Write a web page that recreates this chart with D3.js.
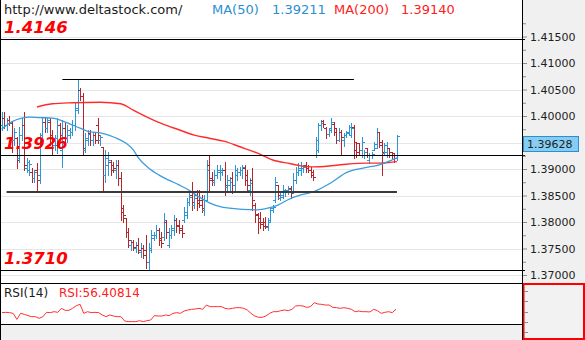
<!DOCTYPE html>
<html>
<head>
<meta charset="utf-8">
<script src="https://cdn.jsdelivr.net/npm/d3@7"></script>
<style>
html, body { margin: 0; padding: 0; background: #fff; }
svg { display: block; font-family: "DejaVu Sans", sans-serif; }
</style>
</head>
<body>
<svg id="chart" width="585" height="340"></svg>
<script>
// OHLC bars: [open, high, low, close]
const bars = [
  [1.3983,1.4008,1.3974,1.3996],[1.3996,1.4008,1.3977,1.3983],[1.3983,1.3996,1.3974,1.3992],
  [1.3992,1.4000,1.3983,1.3987],[1.3987,1.3989,1.3932,1.3955],[1.3955,1.3977,1.3945,1.3970],
  [1.3959,1.3960,1.3902,1.3917],[1.3921,1.3979,1.3913,1.3964],[1.3964,1.3996,1.3955,1.3983],
  [1.3983,1.4008,1.3898,1.3908],[1.3902,1.3921,1.3894,1.3913],[1.3898,1.3917,1.3889,1.3909],
  [1.3894,1.3902,1.3875,1.3883],[1.3883,1.3898,1.3875,1.3894],[1.3898,1.3911,1.3857,1.3879],
  [1.3889,1.3968,1.3874,1.3955],[1.3964,1.3996,1.3955,1.3989],[1.3989,1.3998,1.3970,1.3977],
  [1.3977,1.3996,1.3970,1.3992],[1.3989,1.3996,1.3945,1.3959],[1.3964,1.3974,1.3926,1.3945],
  [1.3945,1.3964,1.3936,1.3959],[1.3945,1.3996,1.3930,1.3983],[1.3983,1.3987,1.3955,1.3964],
  [1.3936,1.3992,1.3904,1.3977],[1.3977,1.3987,1.3949,1.3959],[1.3959,1.3983,1.3951,1.3974],
  [1.3964,1.3977,1.3959,1.3970],[1.3970,1.3992,1.3964,1.3983],[1.3983,1.4025,1.3974,1.4015],
  [1.4011,1.4070,1.4006,1.4049],[1.4049,1.4053,1.4030,1.4038],[1.4038,1.4043,1.3926,1.3940],
  [1.3936,1.3968,1.3932,1.3959],[1.3955,1.3974,1.3945,1.3966],[1.3968,1.3974,1.3945,1.3955],
  [1.3955,1.3970,1.3945,1.3964],[1.3964,1.3970,1.3949,1.3955],[1.3983,1.3996,1.3949,1.3964],
  [1.3955,1.3964,1.3945,1.3960],[1.3942,1.3942,1.3857,1.3889],[1.3889,1.3936,1.3875,1.3921],
  [1.3908,1.3932,1.3889,1.3917],[1.3913,1.3917,1.3889,1.3898],[1.3908,1.3913,1.3894,1.3902],
  [1.3898,1.3917,1.3883,1.3908],[1.3908,1.3917,1.3870,1.3883],[1.3883,1.3894,1.3804,1.3819],
  [1.3826,1.3832,1.3800,1.3813],[1.3808,1.3808,1.3772,1.3781],[1.3781,1.3789,1.3753,1.3766],
  [1.3757,1.3766,1.3747,1.3762],[1.3762,1.3766,1.3747,1.3753],[1.3751,1.3762,1.3743,1.3757],
  [1.3757,1.3770,1.3742,1.3747],[1.3743,1.3760,1.3734,1.3751],[1.3751,1.3757,1.3732,1.3738],
  [1.3747,1.3775,1.3713,1.3725],[1.3725,1.3760,1.3709,1.3747],[1.3751,1.3785,1.3743,1.3775],
  [1.3770,1.3781,1.3766,1.3775],[1.3775,1.3794,1.3770,1.3785],[1.3785,1.3789,1.3757,1.3766],
  [1.3770,1.3781,1.3753,1.3760],[1.3772,1.3817,1.3766,1.3804],[1.3800,1.3804,1.3770,1.3781],
  [1.3757,1.3789,1.3753,1.3775],[1.3775,1.3794,1.3770,1.3789],[1.3785,1.3813,1.3775,1.3804],
  [1.3804,1.3808,1.3781,1.3792],[1.3794,1.3804,1.3779,1.3785],[1.3789,1.3794,1.3772,1.3779],
  [1.3804,1.3828,1.3800,1.3819],[1.3813,1.3845,1.3808,1.3838],[1.3838,1.3855,1.3832,1.3847],
  [1.3851,1.3875,1.3823,1.3838],[1.3832,1.3855,1.3826,1.3845],[1.3851,1.3860,1.3823,1.3836],
  [1.3842,1.3860,1.3828,1.3832],[1.3842,1.3851,1.3819,1.3826],[1.3823,1.3851,1.3813,1.3842],
  [1.3842,1.3917,1.3842,1.3898],[1.3908,1.3925,1.3860,1.3879],[1.3883,1.3894,1.3870,1.3879],
  [1.3875,1.3898,1.3870,1.3889],[1.3889,1.3908,1.3883,1.3898],[1.3894,1.3908,1.3879,1.3898],
  [1.3894,1.3902,1.3889,1.3898],[1.3898,1.3913,1.3851,1.3870],[1.3866,1.3889,1.3860,1.3879],
  [1.3870,1.3885,1.3860,1.3875],[1.3883,1.3894,1.3855,1.3870],[1.3870,1.3908,1.3860,1.3898],
  [1.3889,1.3902,1.3879,1.3894],[1.3894,1.3904,1.3889,1.3898],[1.3898,1.3908,1.3883,1.3904],
  [1.3902,1.3908,1.3870,1.3879],[1.3889,1.3898,1.3857,1.3870],[1.3860,1.3883,1.3851,1.3874],
  [1.3879,1.3902,1.3823,1.3842],[1.3832,1.3836,1.3800,1.3813],[1.3815,1.3817,1.3779,1.3800],
  [1.3808,1.3819,1.3789,1.3796],[1.3800,1.3808,1.3785,1.3792],[1.3800,1.3809,1.3789,1.3792],
  [1.3791,1.3808,1.3785,1.3800],[1.3804,1.3828,1.3800,1.3823],[1.3826,1.3832,1.3819,1.3828],
  [1.3842,1.3885,1.3838,1.3875],[1.3870,1.3870,1.3843,1.3851],[1.3845,1.3857,1.3842,1.3851],
  [1.3847,1.3870,1.3845,1.3860],[1.3857,1.3862,1.3849,1.3860],[1.3857,1.3868,1.3853,1.3862],
  [1.3864,1.3868,1.3845,1.3855],[1.3857,1.3892,1.3855,1.3879],[1.3879,1.3904,1.3874,1.3894],
  [1.3894,1.3911,1.3889,1.3902],[1.3898,1.3913,1.3889,1.3906],[1.3902,1.3908,1.3894,1.3904],
  [1.3908,1.3913,1.3894,1.3902],[1.3902,1.3908,1.3894,1.3898],[1.3898,1.3904,1.3885,1.3889],
  [1.3894,1.3898,1.3879,1.3885],[1.3926,1.3960,1.3923,1.3955],[1.3936,1.3987,1.3932,1.3983],
  [1.3983,1.3992,1.3974,1.3987],[1.3991,1.3992,1.3979,1.3985],[1.3977,1.3979,1.3959,1.3966],
  [1.3966,1.3977,1.3962,1.3974],[1.3977,1.3996,1.3970,1.3989],[1.3985,1.3989,1.3964,1.3970],
  [1.3977,1.3977,1.3949,1.3955],[1.3955,1.3977,1.3953,1.3970],[1.3970,1.3974,1.3926,1.3960],
  [1.3955,1.3968,1.3943,1.3964],[1.3964,1.3972,1.3960,1.3968],[1.3970,1.3983,1.3966,1.3979],
  [1.3964,1.3987,1.3960,1.3977],[1.3979,1.3983,1.3921,1.3936],[1.3951,1.3951,1.3923,1.3932],
  [1.3949,1.3949,1.3926,1.3936],[1.3936,1.3960,1.3923,1.3951],[1.3926,1.3936,1.3921,1.3932],
  [1.3940,1.3940,1.3923,1.3926],[1.3917,1.3930,1.3911,1.3926],[1.3926,1.3932,1.3921,1.3928],
  [1.3936,1.3951,1.3936,1.3947],[1.3940,1.3977,1.3940,1.3970],[1.3970,1.3970,1.3942,1.3951],
  [1.3945,1.3955,1.3889,1.3932],[1.3930,1.3949,1.3926,1.3945],[1.3932,1.3951,1.3923,1.3940],
  [1.3940,1.3940,1.3923,1.3932],[1.3932,1.3932,1.3921,1.3926],[1.3930,1.3930,1.3913,1.3921],
  [1.3921,1.3964,1.3917,1.39628]
];

// Moving averages: [bar index, value]
const ma50 = [
  [0,1.3975],[4,1.3989],[8,1.3996],[11,1.3998],[15,1.3997],[20,1.3996],[26,1.3987],
  [31,1.3977],[35,1.3970],[39,1.3968],[45,1.3959],[49,1.3949],[52,1.3936],[54,1.3921],
  [58,1.3902],[62,1.3889],[66,1.3879],[70,1.3870],[74,1.3860],[78,1.3847],[82,1.3836],
  [87,1.3828],[95,1.3824],[101,1.3823],[105,1.3826],[109,1.3832],[113,1.3842],[118,1.3851],
  [123,1.3857],[130,1.3874],[136,1.3893],[143,1.3902],[149,1.3908],[154,1.3917],[156,1.39211]
];
const ma200 = [
  [14,1.4017],[20,1.4023],[28,1.4025],[39,1.4026],[47,1.4023],[52,1.4011],[57,1.3999],
  [63,1.3986],[70,1.3974],[76,1.3964],[82,1.3958],[88,1.3952],[94,1.3942],[101,1.3930],
  [107,1.3917],[114,1.3910],[118,1.3906],[123,1.3904],[130,1.3906],[136,1.3909],
  [144,1.3911],[149,1.3911],[154,1.3913],[156,1.39140]
];

// RSI(14)
const rsi = [
  50.6,51.1,50.6,49.4,39.4,49.4,47.8,45.6,43.9,43.9,41.1,43.9,51.1,50.6,52.2,51.1,
  57.8,54.4,54.4,57.8,62.2,64.4,49.4,52.2,50.6,51.1,50.6,46.7,43.9,46.7,45.0,43.9,
  43.9,36.7,35.6,35.6,35.6,37.2,35.6,37.2,38.3,45.6,45.0,45.0,46.7,45.6,49.4,50.6,
  49.4,53.3,55.0,56.1,56.7,57.8,56.1,63.3,60.6,60.6,60.6,60.6,57.8,56.7,57.8,58.9,
  58.9,57.8,55.0,49.4,45.0,42.8,42.8,45.0,49.4,52.2,52.2,53.9,55.0,53.9,56.1,61.7,
  62.2,61.7,59.4,60.6,67.2,65.0,64.4,63.3,63.3,59.4,58.9,57.8,58.9,57.8,56.1,52.2,
  53.3,52.2,52.2,51.7,56.1,53.9,49.4,51.1,52.2,50.6,56.40814
];
const rsiTicks = [87.5, 70, 52.5, 35, 17.5];

// Price axis ticks
const priceTicks = [1.415, 1.41, 1.405, 1.40, 1.395, 1.39, 1.385, 1.38, 1.375, 1.37];
const minorTicks = [1.4175, 1.4125, 1.4075, 1.4025, 1.3975, 1.3925, 1.3875, 1.3825, 1.3775, 1.3725, 1.3675];

// Marked price levels (full width, labelled) and drawn trend lines
const levels = [1.4146, 1.3926, 1.3710];
const trendLines = [
  { price: 1.4070, from: 24, to: 139, color: "#000", width: 1 },
  { price: 1.3857, from: 2, to: 156, color: "#3a3a3a", width: 2 }
];

const plotR = 522, mainB = 283, rsiT = 283, rsiB = 324;
const fmt5 = d3.format(".5f"), fmt4 = d3.format(".4f");
const crisp = v => Math.round(v) + 0.5;

const svg = d3.select("#chart");
const x = d3.scaleLinear().domain([0, bars.length - 1]).range([1.5, 397]);
const y = d3.scaleLinear().domain([1.415, 1.37]).range([36.5, 275]);
const xr = d3.scaleLinear().domain([0, rsi.length - 1]).range([2, 396]);
const yr = d3.scaleLinear().domain([0, 100]).range([343, 283]);

// backgrounds
svg.append("rect").attr("width", 585).attr("height", 340).attr("fill", "#fff");
svg.append("rect").attr("x", plotR + 1).attr("y", 0).attr("width", 585 - plotR).attr("height", mainB).attr("fill", "#f0f0f0");
svg.append("rect").attr("x", 0).attr("y", rsiB).attr("width", plotR).attr("height", 340 - rsiB).attr("fill", "#f0f0f0");

const defs = svg.append("defs");
defs.append("clipPath").attr("id", "clipMain").append("rect")
  .attr("x", 1).attr("y", 0).attr("width", plotR - 1).attr("height", mainB);
defs.append("clipPath").attr("id", "clipRsi").append("rect")
  .attr("x", 1).attr("y", rsiT + 1).attr("width", plotR - 1).attr("height", rsiB - rsiT - 1);

// gridlines
svg.append("g").selectAll("line").data(priceTicks).join("line")
  .attr("x1", 0).attr("x2", plotR)
  .attr("y1", d => crisp(y(d))).attr("y2", d => crisp(y(d)))
  .attr("stroke", "#e6e6e6").attr("stroke-width", 1);

const main = svg.append("g").attr("clip-path", "url(#clipMain)");

// OHLC bars
main.append("g").selectAll("path").data(bars).join("path")
  .attr("fill", "none")
  .attr("stroke", d => d[3] >= d[0] ? "#2b95d6" : "#b3262b")
  .attr("stroke-width", 1)
  .attr("d", (d, i) => {
    const xi = crisp(x(i));
    const yo = crisp(y(d[0])), yh = Math.round(y(d[1])), yl = Math.round(y(d[2])) + 1, yc = crisp(y(d[3]));
    return `M${xi},${yh}V${yl}M${xi - 2.5},${yo}H${xi}M${xi},${yc}H${xi + 2.5}`;
  });

// moving averages
const maLine = d3.line().x(d => x(d[0])).y(d => y(d[1])).curve(d3.curveMonotoneX);
main.append("path").datum(ma200).attr("d", maLine)
  .attr("fill", "none").attr("stroke", "#ff2b2b").attr("stroke-width", 1.4);
main.append("path").datum(ma50).attr("d", maLine)
  .attr("fill", "none").attr("stroke", "#3a9ddb").attr("stroke-width", 1.3);

// trend lines
main.append("g").selectAll("line").data(trendLines).join("line")
  .attr("x1", d => x(d.from)).attr("x2", d => x(d.to))
  .attr("y1", d => d.width % 2 ? crisp(y(d.price)) : Math.round(y(d.price)))
  .attr("y2", d => d.width % 2 ? crisp(y(d.price)) : Math.round(y(d.price)))
  .attr("stroke", d => d.color).attr("stroke-width", d => d.width);

// marked levels
svg.append("g").selectAll("line").data(levels).join("line")
  .attr("x1", 0).attr("x2", plotR + 3)
  .attr("y1", d => crisp(y(d))).attr("y2", d => crisp(y(d)))
  .attr("stroke", "#000").attr("stroke-width", 1);
svg.append("g").selectAll("text").data(levels).join("text")
  .attr("x", 4).attr("y", d => y(d) - 6)
  .attr("font-size", "16.5px").attr("font-weight", "bold").attr("font-style", "italic")
  .attr("fill", "#ff0000")
  .text(d => fmt4(d));

// price axis; the last-price marker takes the place of the label it covers
const lastClose = bars[bars.length - 1][3];
const ly = Math.round(y(lastClose)) + 0.5;
const covered = t => y(t) > ly - 6 && y(t) < ly + 21;
const axisG = svg.append("g").attr("transform", `translate(${plotR},0)`);
axisG.call(d3.axisRight(y).tickValues(priceTicks)
  .tickFormat(t => covered(t) ? "" : fmt5(t)).tickSize(5).tickPadding(3));
axisG.append("g").call(d3.axisRight(y).tickValues(minorTicks).tickFormat("").tickSize(4));
axisG.selectAll(".domain").remove();
axisG.selectAll(".tick line").attr("stroke", "#8a8a8a");
axisG.selectAll(".tick text").attr("font-family", "DejaVu Sans, sans-serif")
  .attr("font-size", "11px").attr("fill", "#1e1e1e");

// last price marker
svg.append("rect").attr("x", plotR + 1.5).attr("y", ly).attr("width", 55).attr("height", 15)
  .attr("fill", "#86cdf3").attr("stroke", "#2b8fd0").attr("stroke-width", 1);
svg.append("text").attr("x", plotR + 5).attr("y", ly + 11.5)
  .attr("font-size", "11px").attr("fill", "#1e1e1e").text(fmt5(lastClose));

// RSI panel
svg.append("g").attr("clip-path", "url(#clipRsi)").append("path").datum(rsi)
  .attr("d", d3.line().x((d, i) => xr(i)).y(d => yr(d)))
  .attr("fill", "none").attr("stroke", "#ff3030").attr("stroke-width", 1);

// RSI axis box
svg.append("rect").attr("x", plotR + 1.5).attr("y", rsiT + 1).attr("width", 585 - plotR - 2.5).attr("height", 340 - rsiT - 2)
  .attr("fill", "#f2f2f2").attr("stroke", "#ff0000").attr("stroke-width", 2);
svg.append("g").selectAll("line").data(rsiTicks).join("line")
  .attr("x1", plotR + 2).attr("x2", plotR + 6)
  .attr("y1", d => crisp(yr(d))).attr("y2", d => crisp(yr(d)))
  .attr("stroke", "#8a8a8a");

// frame lines
svg.append("line").attr("x1", 0).attr("x2", plotR).attr("y1", mainB + 0.5).attr("y2", mainB + 0.5).attr("stroke", "#000");
svg.append("line").attr("x1", 0).attr("x2", plotR).attr("y1", rsiB + 0.5).attr("y2", rsiB + 0.5).attr("stroke", "#000");
svg.append("line").attr("x1", plotR + 0.5).attr("x2", plotR + 0.5).attr("y1", 0).attr("y2", 340).attr("stroke", "#000");
svg.append("line").attr("x1", 0.5).attr("x2", 0.5).attr("y1", 0).attr("y2", 340).attr("stroke", "#000");

// header
const header = svg.append("g").attr("font-size", "13px");
header.append("text").attr("x", 4).attr("y", 14).attr("fill", "#1a1a1a").text("http://www.deltastock.com/");
header.append("text").attr("x", 212).attr("y", 14).attr("fill", "#2a8fd0").text("MA(50)");
header.append("text").attr("x", 272).attr("y", 14).attr("fill", "#2a8fd0").text(fmt5(ma50[ma50.length - 1][1]));
header.append("text").attr("x", 334).attr("y", 14).attr("fill", "#ff2020").text("MA(200)");
header.append("text").attr("x", 401).attr("y", 14).attr("fill", "#ff2020").text(fmt5(ma200[ma200.length - 1][1]));

// RSI header
svg.append("text").attr("x", 4).attr("y", 297).attr("font-size", "12px").attr("fill", "#1a1a1a").text("RSI(14)");
svg.append("text").attr("x", 59).attr("y", 297).attr("font-size", "12px").attr("fill", "#ff2020")
  .text("RSI:" + fmt5(rsi[rsi.length - 1]));
</script>
</body>
</html>
